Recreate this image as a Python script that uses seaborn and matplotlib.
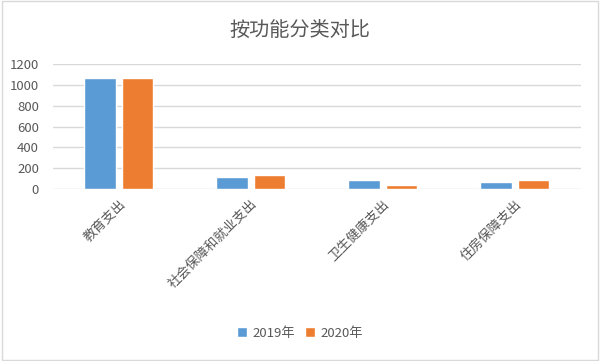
import numpy as np
import matplotlib
matplotlib.use("Agg")
import matplotlib.pyplot as plt
import seaborn as sns
import pandas as pd

categories = ["教育支出", "社会保障和就业支出", "卫生健康支出", "住房保障支出"]
years = ["2019年", "2020年"]
v2019 = [1066, 121, 83, 67]
v2020 = [1066, 137, 38, 92]
colors = ["#5B9BD5", "#ED7D31"]

df = pd.DataFrame({
    "category": categories * 2,
    "year": [years[0]] * 4 + [years[1]] * 4,
    "value": v2019 + v2020,
})

sns.set_theme(style="white")
plt.rcParams['font.family'] = ['Noto Sans CJK SC', 'DejaVu Sans']

fig = plt.figure(figsize=(6, 3.61), dpi=100)
ax = fig.add_axes([0.088, 0.476, 0.88, 0.347])
sns.barplot(data=df, x="category", y="value", hue="year", palette=colors,
            width=0.57, gap=0.17, ax=ax, saturation=1)

ax.set_ylim(0, 1200)
ax.set_yticks(np.arange(0, 1201, 200))
ax.yaxis.grid(True, color="#d9d9d9", lw=1)
ax.set_axisbelow(True)
for s in ax.spines.values():
    s.set_visible(False)
ax.set_xlabel("")
ax.set_ylabel("")
ax.tick_params(axis="y", labelsize=9.5, colors="#595959", length=0, pad=10)
ax.tick_params(axis="x", labelsize=9.5, colors="#595959", length=0, pad=6)
plt.setp(ax.get_xticklabels(), rotation=45, ha="right", rotation_mode="anchor")

fig.text(0.5, 0.915, "按功能分类对比", ha="center", va="center",
         fontsize=14.5, color="#595959")

ax.legend(loc="center", bbox_to_anchor=(0.5 / 0.88 - 0.088 / 0.88, (1 - 333 / 361 - 0.476) / 0.347),
          bbox_transform=ax.transAxes, ncol=2, frameon=False, fontsize=9.5,
          handlelength=0.75, handleheight=0.75, handletextpad=0.4, columnspacing=0.8,
          labelcolor="#595959")

border = plt.Rectangle((0.003, 0.003), 0.994, 0.994, transform=fig.transFigure,
                       fill=False, edgecolor="#d9d9d9", lw=1)
fig.patches.append(border)

fig.savefig("out.png", dpi=100)
